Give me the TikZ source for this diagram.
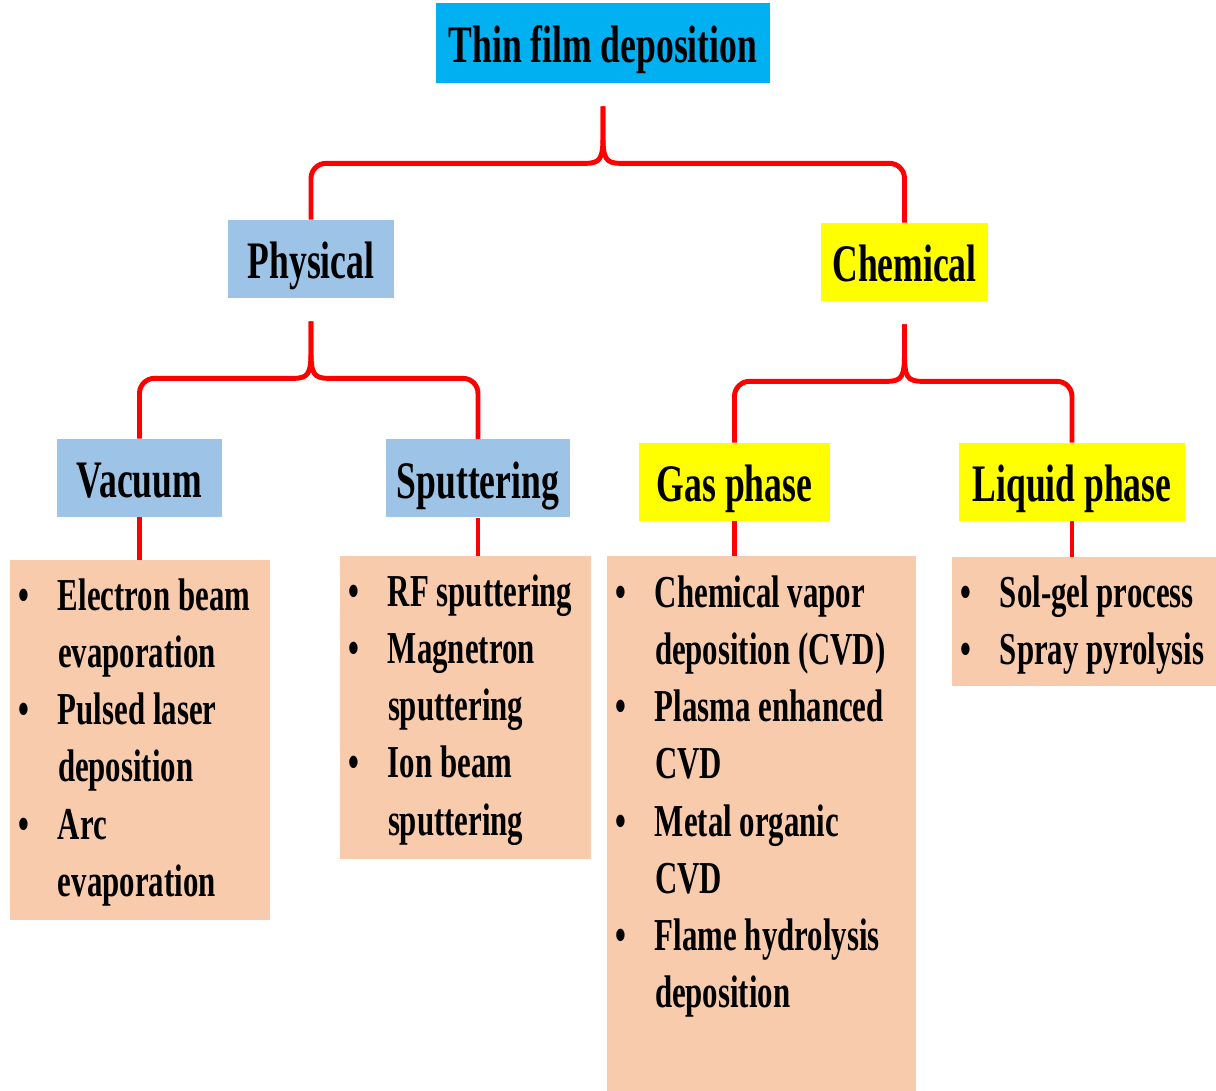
\documentclass[tikz,border=0pt]{standalone}
\usepackage{fontspec}
\setmainfont{Liberation Serif}[FakeStretch=0.675]
\usetikzlibrary{positioning, calc}

\begin{document}
\begin{tikzpicture}[
  every node/.style={inner sep=0pt},
  hdr/.style={minimum height=1.56cm, text height=1.0cm, text depth=0.2cm,
    font=\fontsize{30pt}{36pt}\selectfont\bfseries},
  listbox/.style={fill=cpeach},
  items/.style={anchor=base west, align=left, font=\fontsize{26pt}{32.5pt}\selectfont\bfseries},
  brace/.style={cred, line width=2.8pt},
  link/.style={cred, line width=2.8pt},
]
\definecolor{ccyan}{HTML}{00B0F0}    % title
\definecolor{cblue}{HTML}{9DC3E6}    % physical branch
\definecolor{cyell}{HTML}{FFFF00}    % chemical branch
\definecolor{cpeach}{HTML}{F8CBAD}   % method lists
\definecolor{cred}{HTML}{FF0000}     % connectors

\useasboundingbox (0,0) rectangle (24.32,21.82);

% -------- headings --------
\node[hdr, fill=ccyan, minimum width=6.68cm, minimum height=1.6cm] (top) at (12.06,20.96) {Thin film deposition};

\node[hdr, fill=cblue, minimum width=3.32cm] (phys) at (6.22,16.64) {Physical};
\node[hdr, fill=cyell, minimum width=3.34cm] (chem) at (18.09,16.58) {Chemical};

\node[hdr, fill=cblue, minimum width=3.30cm] (vac)  at (2.79,12.26)  {Vacuum};
\node[hdr, fill=cblue, minimum width=3.68cm] (sput) at (9.56,12.25)  {Sputtering};
\node[hdr, fill=cyell, minimum width=3.82cm] (gas)  at (14.69,12.18) {Gas phase};
\node[hdr, fill=cyell, minimum width=4.52cm] (liq)  at (21.44,12.18) {Liquid phase};

% =====================================================================
% Method lists
% =====================================================================
\node[listbox, minimum width=5.20cm, minimum height=7.20cm]  (vac-list)  at (2.80,7.02)  {};
\node[listbox, minimum width=5.02cm, minimum height=6.06cm]  (sput-list) at (9.31,7.67)  {};
\node[listbox, minimum width=6.18cm, minimum height=10.70cm] (gas-list)  at (15.23,5.35) {};
\node[listbox, minimum width=5.28cm, minimum height=2.58cm]  (liq-list)  at (21.68,9.39) {};

\node[items] (vac-items) at ($(vac-list.north west)+(0.16,-1.02)$) {%
  \begin{tabular}[t]{@{}p{0.8cm}@{}l@{}}
  \textbullet & Electron beam\\
              & evaporation\\
  \textbullet & Pulsed laser\\
              & deposition\\
  \textbullet & Arc\\
              & evaporation
  \end{tabular}};

\node[items] (sput-items) at ($(sput-list.north west)+(0.16,-1.02)$) {%
  \begin{tabular}[t]{@{}p{0.8cm}@{}l@{}}
  \textbullet & RF sputtering\\
  \textbullet & Magnetron\\
              & sputtering\\
  \textbullet & Ion beam\\
              & sputtering
  \end{tabular}};

\node[items] (gas-items) at ($(gas-list.north west)+(0.16,-1.04)$) {%
  \begin{tabular}[t]{@{}p{0.8cm}@{}l@{}}
  \textbullet & Chemical vapor\\
              & deposition (CVD)\\
  \textbullet & Plasma enhanced\\
              & CVD\\
  \textbullet & Metal organic\\
              & CVD\\
  \textbullet & Flame hydrolysis\\
              & deposition
  \end{tabular}};

\node[items] (liq-items) at ($(liq-list.north west)+(0.16,-1.02)$) {%
  \begin{tabular}[t]{@{}p{0.8cm}@{}l@{}}
  \textbullet & Sol-gel process\\
  \textbullet & Spray pyrolysis
  \end{tabular}};

% -------- braces from parent to both children --------
\foreach \pa/\lc/\rc in {top/phys/chem, phys/vac/sput, chem/gas/liq} {
  \coordinate (s) at ($(\pa.south)+(0,-0.46)$);
  \coordinate (j) at ($(\pa.south)+(0,-1.60)$);
  \draw[brace] (s) -- ($(j)+(0,0.55)$)
    .. controls ($(j)+(0,0.1)$) and ($(j)+(-0.05,0)$) .. ($(j)+(-0.35,0)$)
    [rounded corners=0.3cm] -| (\lc.north);
  \draw[brace] (s) -- ($(j)+(0,0.55)$)
    .. controls ($(j)+(0,0.1)$) and ($(j)+(0.05,0)$) .. ($(j)+(0.35,0)$)
    [rounded corners=0.3cm] -| (\rc.north);
}

% -------- heading to list --------
\foreach \h in {vac, sput, gas, liq} {
  \draw[link] (\h.south) -- (\h.south |- \h-list.north);
}

\end{tikzpicture}
\end{document}
